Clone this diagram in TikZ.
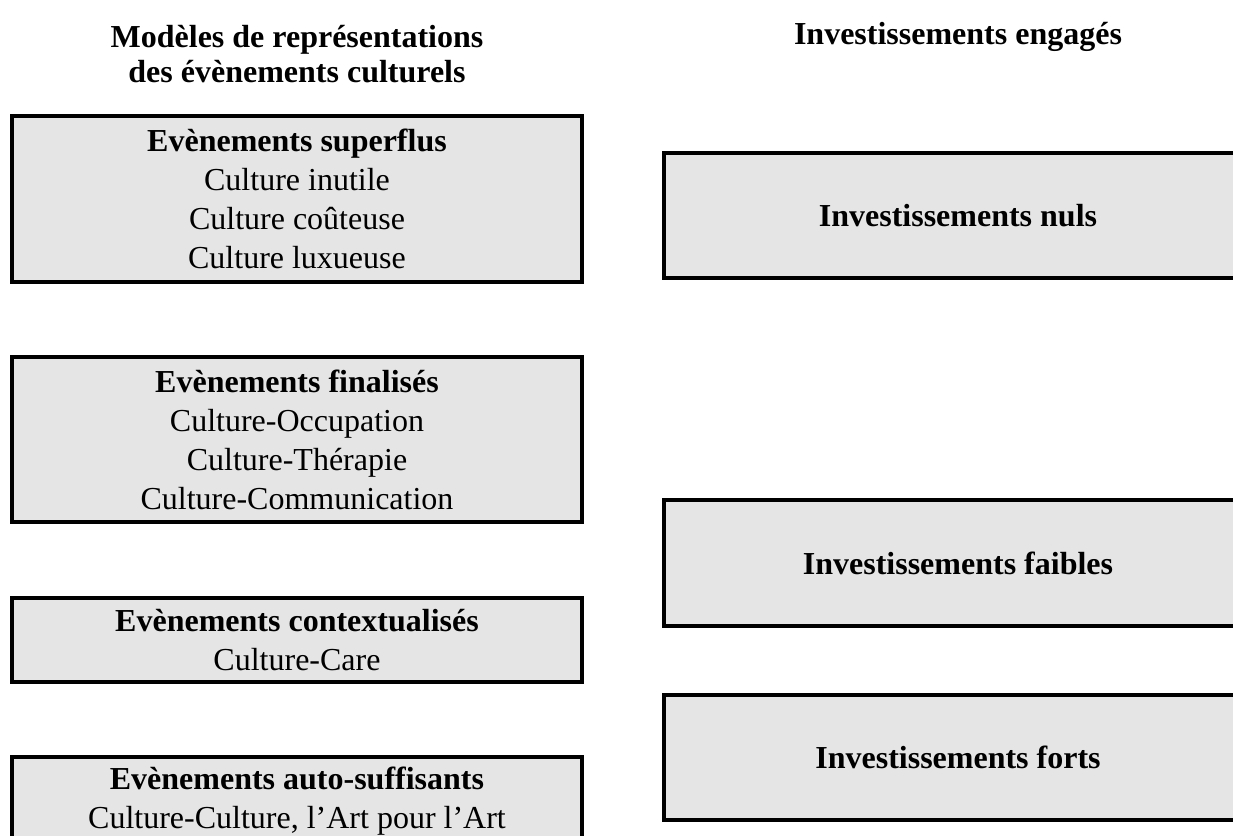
\documentclass[tikz,border=0pt]{standalone}
\usepackage{fontspec}
\setmainfont{Liberation Serif}
\definecolor{boxgray}{HTML}{E5E5E5}
\begin{document}
\begin{tikzpicture}[x=0.75pt,y=-0.75pt]
\tikzset{
  box/.style={draw=black, line width=2.5pt, fill=boxgray, inner sep=0pt, align=center,
    font=\fontsize{24}{29.25}\selectfont},
  leftbox/.style={box, minimum width=427.5pt},
  rightbox/.style={box, minimum width=441pt, font=\fontsize{24}{29.25}\selectfont\bfseries},
  title/.style={inner sep=0pt, align=center, font=\fontsize{24}{26.25}\selectfont\bfseries}
}
\useasboundingbox (0,0) rectangle (1233,836);
\node[title] (t1) at (297,54.5) {Modèles de représentations\\des évènements culturels};
\node[title] (t2) at (958,37) {Investissements engagés};

\node[leftbox, minimum height=124.5pt] (e1) at (297,199)
  {\textbf{Evènements superflus}\\Culture inutile\\Culture coûteuse\\Culture luxueuse};
\node[leftbox, minimum height=123.75pt] (e2) at (297,439.5)
  {\textbf{Evènements finalisés}\\Culture-Occupation\\Culture-Thérapie\\Culture-Communication};
\node[leftbox, minimum height=63pt] (e3) at (297,640)
  {\textbf{Evènements contextualisés}\\Culture-Care};
\node[leftbox, minimum height=66.75pt] (e4) at (297,801.5)
  {\textbf{Evènements auto-suffisants}\\Culture-Culture, l’Art pour l’Art};

\node[rightbox, minimum height=93.75pt] (r1) at (958,215.5) {Investissements nuls};
\node[rightbox, minimum height=94.5pt] (r2) at (958,563) {Investissements faibles};
\node[rightbox, minimum height=93.75pt] (r3) at (958,757.5) {Investissements forts};
\end{tikzpicture}
\end{document}
